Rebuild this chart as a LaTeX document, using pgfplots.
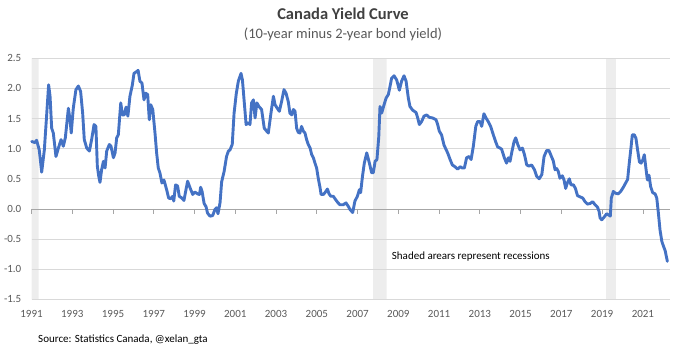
\documentclass[border=0pt]{standalone}
\usepackage{fontspec}
\setmainfont{Carlito}
\usepackage{pgfplots}
\pgfplotsset{compat=1.18}
\usepackage{pgfplotstable}
\definecolor{ycline}{HTML}{4472C4}
\definecolor{gridc}{HTML}{D9D9D9}
\definecolor{zeroc}{HTML}{A6A6A6}
\definecolor{recc}{HTML}{EDEDED}
\definecolor{labc}{HTML}{595959}
\definecolor{titc}{HTML}{404040}

\pgfplotstableread{
x y
1991.01 1.12
1991.17 1.10
1991.25 1.14
1991.38 0.98
1991.50 0.61
1991.63 0.98
1991.74 1.54
1991.84 2.06
1991.91 1.87
1991.99 1.34
1992.07 1.26
1992.20 0.87
1992.32 1.01
1992.45 1.15
1992.56 1.04
1992.66 1.18
1992.81 1.67
1992.89 1.48
1992.95 1.26
1993.05 1.67
1993.18 1.98
1993.30 2.04
1993.41 1.95
1993.51 1.59
1993.59 1.15
1993.71 1.01
1993.84 0.96
1993.95 1.15
1994.07 1.40
1994.16 1.37
1994.23 0.71
1994.30 0.54
1994.36 0.44
1994.44 0.65
1994.53 0.79
1994.61 0.68
1994.69 0.96
1994.82 1.07
1994.90 1.04
1995.02 0.85
1995.10 0.93
1995.18 1.18
1995.26 1.23
1995.38 1.76
1995.46 1.56
1995.55 1.56
1995.64 1.69
1995.73 1.54
1995.83 1.87
1995.95 2.06
1996.03 2.25
1996.16 2.28
1996.23 2.30
1996.32 2.12
1996.42 2.09
1996.52 1.81
1996.60 1.92
1996.70 1.90
1996.78 1.48
1996.85 1.73
1996.95 1.65
1997.06 1.26
1997.14 0.93
1997.22 0.68
1997.30 0.60
1997.40 0.43
1997.50 0.48
1997.63 0.32
1997.73 0.18
1997.83 0.17
1997.93 0.21
1997.98 0.13
1998.07 0.40
1998.17 0.38
1998.25 0.21
1998.38 0.18
1998.48 0.14
1998.58 0.32
1998.66 0.46
1998.78 0.35
1998.91 0.24
1999.02 0.28
1999.15 0.25
1999.24 0.24
1999.30 0.36
1999.37 0.29
1999.47 0.09
1999.56 0.04
1999.64 -0.07
1999.76 -0.12
1999.89 -0.11
2000.00 -0.01
2000.08 0.02
2000.15 -0.08
2000.25 0.10
2000.33 0.45
2000.45 0.62
2000.57 0.87
2000.66 0.96
2000.74 0.98
2000.85 1.07
2000.94 1.59
2001.05 1.92
2001.15 2.12
2001.28 2.25
2001.35 2.14
2001.43 1.81
2001.53 1.40
2001.64 1.43
2001.72 1.40
2001.80 1.76
2001.89 1.81
2001.97 1.51
2002.06 1.76
2002.16 1.70
2002.29 1.65
2002.42 1.34
2002.54 1.29
2002.62 1.26
2002.75 1.59
2002.87 1.87
2002.95 1.73
2003.06 1.67
2003.16 1.62
2003.27 1.78
2003.39 1.98
2003.49 1.92
2003.60 1.78
2003.68 1.59
2003.77 1.56
2003.85 1.65
2003.93 1.62
2004.01 1.34
2004.09 1.27
2004.17 1.26
2004.25 1.37
2004.34 1.29
2004.42 1.26
2004.50 1.15
2004.58 1.07
2004.67 1.01
2004.75 0.90
2004.83 0.85
2004.91 0.76
2004.99 0.68
2005.07 0.51
2005.16 0.35
2005.21 0.24
2005.32 0.24
2005.40 0.27
2005.52 0.33
2005.60 0.25
2005.69 0.21
2005.81 0.21
2005.89 0.17
2006.02 0.11
2006.13 0.07
2006.30 0.07
2006.43 0.10
2006.55 0.04
2006.63 -0.01
2006.76 -0.06
2006.87 0.13
2006.99 0.21
2007.09 0.32
2007.15 0.27
2007.24 0.54
2007.33 0.76
2007.45 0.93
2007.58 0.76
2007.69 0.60
2007.77 0.60
2007.86 0.79
2007.95 0.82
2008.04 1.20
2008.10 1.70
2008.18 1.59
2008.30 1.73
2008.40 1.84
2008.51 1.90
2008.59 2.03
2008.67 2.17
2008.79 2.21
2008.92 2.14
2009.05 1.97
2009.16 2.12
2009.28 2.21
2009.38 2.12
2009.49 1.84
2009.57 1.70
2009.70 1.64
2009.87 1.60
2009.95 1.51
2010.03 1.40
2010.14 1.45
2010.26 1.54
2010.39 1.56
2010.52 1.52
2010.68 1.51
2010.85 1.48
2010.93 1.40
2011.01 1.29
2011.12 1.23
2011.24 1.06
2011.42 0.93
2011.54 0.82
2011.65 0.73
2011.78 0.70
2011.91 0.66
2012.03 0.70
2012.14 0.68
2012.24 0.68
2012.35 0.85
2012.47 0.87
2012.57 0.82
2012.68 1.04
2012.80 1.37
2012.89 1.45
2013.01 1.45
2013.09 1.37
2013.20 1.58
2013.30 1.51
2013.41 1.45
2013.53 1.37
2013.66 1.23
2013.77 1.12
2013.87 1.03
2013.99 1.01
2014.07 0.99
2014.20 0.85
2014.31 0.76
2014.40 0.85
2014.48 0.79
2014.56 0.93
2014.68 1.12
2014.76 1.18
2014.86 1.07
2014.97 0.98
2015.09 1.01
2015.19 0.90
2015.30 0.73
2015.41 0.71
2015.54 0.73
2015.68 0.65
2015.79 0.54
2015.91 0.50
2016.04 0.57
2016.15 0.87
2016.28 0.97
2016.39 0.97
2016.50 0.88
2016.60 0.80
2016.69 0.65
2016.77 0.67
2016.85 0.62
2016.93 0.51
2017.05 0.55
2017.13 0.48
2017.21 0.34
2017.29 0.43
2017.39 0.50
2017.47 0.40
2017.59 0.40
2017.69 0.34
2017.79 0.22
2017.92 0.20
2018.05 0.18
2018.16 0.12
2018.28 0.08
2018.41 0.09
2018.54 0.12
2018.65 0.07
2018.77 0.03
2018.85 -0.04
2018.90 -0.15
2018.98 -0.18
2019.09 -0.14
2019.22 -0.08
2019.32 -0.10
2019.40 -0.12
2019.45 0.18
2019.55 0.29
2019.66 0.26
2019.79 0.25
2019.91 0.29
2020.04 0.36
2020.17 0.44
2020.25 0.49
2020.33 0.76
2020.42 1.03
2020.48 1.23
2020.58 1.23
2020.66 1.17
2020.74 0.98
2020.83 0.78
2020.91 0.76
2020.99 0.81
2021.07 0.90
2021.15 0.67
2021.22 0.48
2021.30 0.56
2021.38 0.37
2021.48 0.27
2021.60 0.25
2021.68 0.18
2021.76 -0.07
2021.84 -0.35
2021.93 -0.54
2022.01 -0.62
2022.09 -0.69
2022.20 -0.87
}\yctable

\begin{document}
\begin{tikzpicture}
\path (0,0) rectangle (676pt,356pt);
\begin{axis}[
  set layers,
  at={(31.5pt,56.7pt)}, anchor=south west,
  scale only axis, width=638.5pt, height=241pt,
  xmin=1991, xmax=2022.33, ymin=-1.5, ymax=2.5,
  axis line style={draw=none},
  major tick length=0pt,
  ytick={-1.5,-1,-0.5,0,0.5,1,1.5,2,2.5},
  yticklabels={-1.5,-1.0,-0.5,0.0,0.5,1.0,1.5,2.0,2.5},
  xtick={1991,1993,1995,1997,1999,2001,2003,2005,2007,2009,2011,2013,2015,2017,2019,2021},
  xticklabels={1991,1993,1995,1997,1999,2001,2003,2005,2007,2009,2011,2013,2015,2017,2019,2021},
  ymajorgrids, xmajorgrids=false,
  major grid style={draw=gridc, line width=0.8pt},
  tick label style={font=\fontsize{11}{13}\selectfont, text=labc},
  yticklabel style={anchor=east, inner sep=0pt, xshift=-10pt},
  xticklabel style={anchor=north, inner sep=0pt, yshift=-11pt},
  clip=false,
]
\addplot[fill=recc, draw=none, on layer=axis background] coordinates {(1991,-1.5) (1991,2.5) (1991.35,2.5) (1991.35,-1.5) (1991,-1.5)};
\addplot[fill=recc, draw=none, on layer=axis background] coordinates {(2007.76,-1.5) (2007.76,2.5) (2008.43,2.5) (2008.43,-1.5) (2007.76,-1.5)};
\addplot[fill=recc, draw=none, on layer=axis background] coordinates {(2019.19,-1.5) (2019.19,2.5) (2019.67,2.5) (2019.67,-1.5) (2019.19,-1.5)};
\draw[zeroc, line width=0.8pt] (axis cs:1991,0) -- (axis cs:2022.33,0);
\pgfplotsinvokeforeach{1991,1993,1995,1997,1999,2001,2003,2005,2007,2009,2011,2013,2015,2017,2019,2021}{
  \draw[zeroc, line width=0.8pt] (axis cs:#1,0) -- ++(0pt,-4.7pt);
}
\addplot[ycline, line width=2.9pt, line join=round, line cap=round, mark=none] table[x=x,y=y] {\yctable};
\end{axis}
\node[anchor=base, text=titc, font=\fontsize{16.5}{18}\selectfont\bfseries] at (343pt,336pt) {Canada Yield Curve};
\node[anchor=base, text=labc, font=\fontsize{14.5}{16}\selectfont] at (343pt,317.5pt) {(10-year minus 2-year bond yield)};
\node[anchor=base west, inner sep=0pt, font=\fontsize{11}{13}\selectfont] at (391.7pt,97pt) {Shaded arears represent recessions};
\node[anchor=base west, inner sep=0pt, font=\fontsize{11}{13}\selectfont] at (38pt,13.7pt) {Source: Statistics Canada, @xelan\_gta};
\end{tikzpicture}
\end{document}
